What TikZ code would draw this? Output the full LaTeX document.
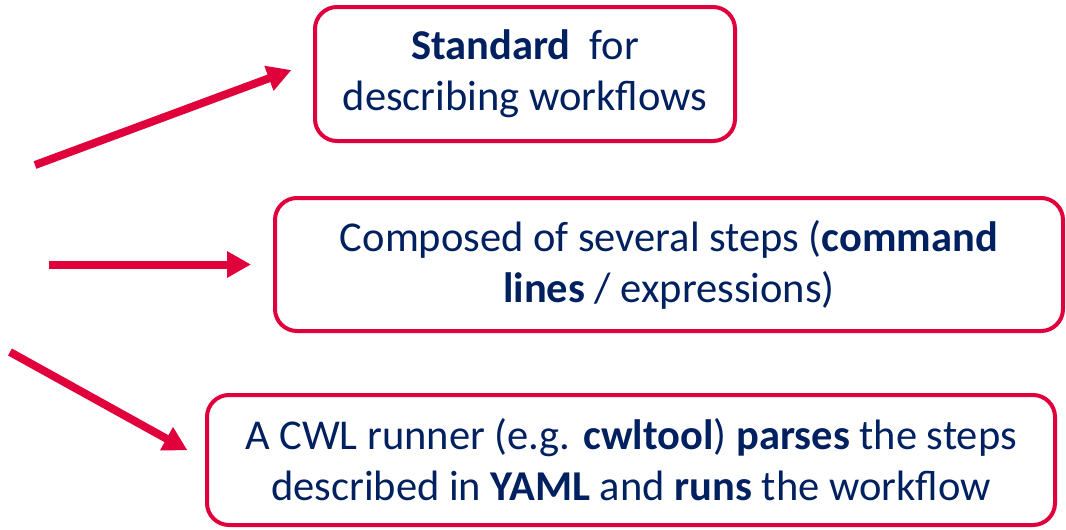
\documentclass[tikz,border=0pt]{standalone}
\usepackage{fontspec}
\setmainfont{Carlito}
\usepackage{tikz}
\usetikzlibrary{arrows.meta,positioning}

\definecolor{cwlred}{HTML}{E0003C}
\definecolor{cwlnavy}{HTML}{002060}

\begin{document}
\begin{tikzpicture}[
  x=1pt,y=-1pt,
  font=\fontsize{42.5}{51}\selectfont,
  card/.style={draw=cwlred,line width=4pt,rounded corners=22pt,fill=white,text=cwlnavy,align=center,inner sep=0pt},
  pointer/.style={draw=cwlred,line width=8pt,-{Triangle[length=24pt,width=25pt]}}
]
\useasboundingbox (0,0) rectangle (1066,530);

\node[card,minimum width=420pt,minimum height=134pt] (std) at (525,74)
  {\textbf{Standard}\ \ for\\describing workflows};
\node[card,minimum width=788pt,minimum height=133pt] (steps) at (669,264.5)
  {Composed\ of\ several\ steps\ (\textbf{command}\\\textbf{lines} / expressions)};
\node[card,minimum width=848pt,minimum height=130pt] (runner) at (631,460)
  {A CWL runner (e.g. \textbf{cwltool}) \textbf{parses} the steps\\described in \textbf{YAML} and \textbf{runs} the workflow};

% arrow tails
\coordinate (tail1) at (35,165);
\coordinate (tail2) at (49,264.5);
\coordinate (tail3) at (10,352);

\draw[pointer,shorten >=23pt] (tail1) -- ([yshift=12pt]std.west);
\draw[pointer,shorten >=22pt] (tail2) -- (steps.west);
\draw[pointer,shorten >=20pt] (tail3) -- (runner.west);
\end{tikzpicture}
\end{document}
